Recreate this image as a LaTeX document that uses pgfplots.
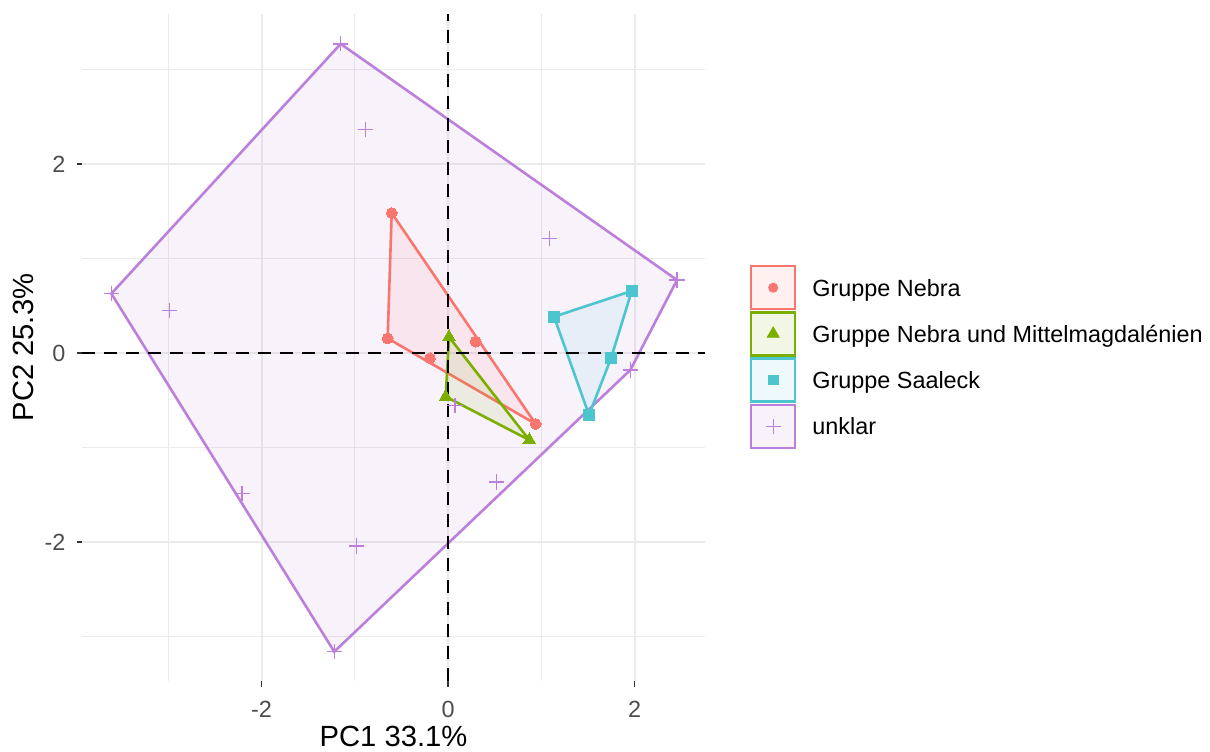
\documentclass[border=0pt]{standalone}
\usepackage{pgfplots}
\pgfplotsset{compat=1.18}
\usepackage{fontspec}
\setmainfont{Liberation Sans}
\definecolor{cRed}{HTML}{F8766D}
\definecolor{cGreen}{HTML}{7CAE00}
\definecolor{cCyan}{HTML}{4CC5CF}
\definecolor{cPurple}{HTML}{BC80DC}
\definecolor{gridc}{HTML}{EBEBEB}
\definecolor{tickc}{HTML}{4D4D4D}
\begin{document}
\begin{tikzpicture}
\useasboundingbox (0,0) rectangle (605pt,375.5pt);
\begin{axis}[
  at={(41pt,35pt)}, anchor=south west,
  scale only axis, width=311.5pt, height=333.5pt,
  xmin=-3.925, xmax=2.756, ymin=-3.47, ymax=3.586,
  axis line style={draw=none},
  xtick={-2,0,2}, xticklabels={-2,0,2},
  ytick={-2,0,2}, yticklabels={-2,0,2},
  minor xtick={-3,-1,1}, minor ytick={-3,-1,1,3},
  grid=both,
  major grid style={gridc, line width=1pt},
  minor grid style={gridc, line width=0.5pt},
  tick align=outside, tick pos=left,
  major tick length=2.75pt, minor tick length=0pt,
  tick style={color=black!80, line width=0.9pt},
  ticklabel style={font=\fontsize{11.7}{14}\selectfont, text=tickc},
  xticklabel style={yshift=-4pt},
  yticklabel style={xshift=-2pt},
  xlabel={PC1 33.1\%},
  ylabel={PC2 25.3\%},
  xlabel style={at={(axis description cs:0.5,-0.0835)}, anchor=center, font=\fontsize{14.6}{17}\selectfont},
  ylabel style={at={(axis description cs:-0.0947,0.5)}, anchor=center, font=\fontsize{14.6}{17}\selectfont},
  legend style={at={(axis description cs:1.0722,0.6237)}, anchor=north west,
    draw=none, fill=none, inner sep=0pt, outer sep=0pt, row sep=0.4pt,
    nodes={inner sep=0pt}, font=\fontsize{11.7}{14}\selectfont,
    /tikz/every odd column/.append style={column sep=8pt}},
  legend cell align=left,
]
% hulls
\addplot[forget plot, cPurple, line width=1.3pt, fill=cPurple, fill opacity=0.1, draw opacity=1]
  coordinates {(-1.151,3.27) (2.456,0.772) (1.956,-0.179) (-1.22,-3.16) (-3.61,0.628)} -- cycle;
\addplot[forget plot, cRed, line width=1.3pt, fill=cRed, fill opacity=0.1, draw opacity=1]
  coordinates {(-0.604,1.481) (0.940,-0.751) (-0.647,0.155)} -- cycle;
\addplot[forget plot, cGreen, line width=1.3pt, fill=cGreen, fill opacity=0.1, draw opacity=1]
  coordinates {(0.011,0.169) (0.872,-0.921) (-0.025,-0.462)} -- cycle;
\addplot[forget plot, cCyan, line width=1.3pt, fill=cCyan, fill opacity=0.1, draw opacity=1]
  coordinates {(1.137,0.384) (1.970,0.656) (1.748,-0.056) (1.512,-0.656)} -- cycle;
% points
\addplot[forget plot, only marks, mark=+, mark size=3.8pt, cPurple, mark options={line width=0.65pt}]
  coordinates {(-1.151,3.27) (-0.884,2.362) (1.090,1.209) (2.456,0.772) (-3.61,0.628)
  (-2.989,0.447) (1.956,-0.179) (0.074,-0.555) (0.521,-1.365) (-2.210,-1.487)
  (-0.985,-2.042) (-1.22,-3.16)};
\addplot[forget plot, only marks, mark=*, mark size=2.7pt, cRed, mark options={fill=cRed, draw=cRed, line width=0pt}]
  coordinates {(-0.604,1.481) (-0.647,0.155) (-0.193,-0.056) (0.297,0.120) (0.940,-0.751)};
\addplot[forget plot, only marks, mark=triangle*, mark size=3.7pt, cGreen, mark options={fill=cGreen, draw=cGreen, line width=0pt}]
  coordinates {(0.011,0.169) (-0.025,-0.462) (0.872,-0.921)};
\addplot[forget plot, only marks, mark=square*, mark size=2.7pt, cCyan, mark options={fill=cCyan, draw=cCyan, line width=0pt}]
  coordinates {(1.137,0.384) (1.970,0.656) (1.748,-0.056) (1.512,-0.656)};
% reference lines
\draw[black, line width=1.4pt, dash pattern=on 6.5pt off 4.5pt] (axis cs:0,-3.47) -- (axis cs:0,3.586);
\draw[black, line width=1.4pt, dash pattern=on 6.5pt off 4.5pt] (axis cs:-3.925,0) -- (axis cs:2.756,0);
% legend
\addlegendimage{legend image code/.code={
  \draw[cRed, line width=1.2pt, fill=cRed, fill opacity=0.1] (0pt,-10.05pt) rectangle (22pt,11.45pt);
  \fill[cRed] (11pt,0.7pt) circle (2.3pt);}}
\addlegendentry{Gruppe Nebra}
\addlegendimage{legend image code/.code={
  \draw[cGreen, line width=1.2pt, fill=cGreen, fill opacity=0.1] (0pt,-10.05pt) rectangle (22pt,11.45pt);
  \fill[cGreen] (11pt,4.2pt) -- (14pt,-1pt) -- (8pt,-1pt) -- cycle;}}
\addlegendentry{Gruppe Nebra und Mittelmagdalénien}
\addlegendimage{legend image code/.code={
  \draw[cCyan, line width=1.2pt, fill=cCyan, fill opacity=0.1] (0pt,-10.05pt) rectangle (22pt,11.45pt);
  \fill[cCyan] (8.6pt,-1.7pt) rectangle (13.4pt,3.1pt);}}
\addlegendentry{Gruppe Saaleck}
\addlegendimage{legend image code/.code={
  \draw[cPurple, line width=1.2pt, fill=cPurple, fill opacity=0.1] (0pt,-10.05pt) rectangle (22pt,11.45pt);
  \draw[cPurple, line width=0.65pt] (7.2pt,0.7pt) -- (14.8pt,0.7pt) (11pt,-3.1pt) -- (11pt,4.5pt);}}
\addlegendentry{unklar}
\end{axis}
\end{tikzpicture}
\end{document}
